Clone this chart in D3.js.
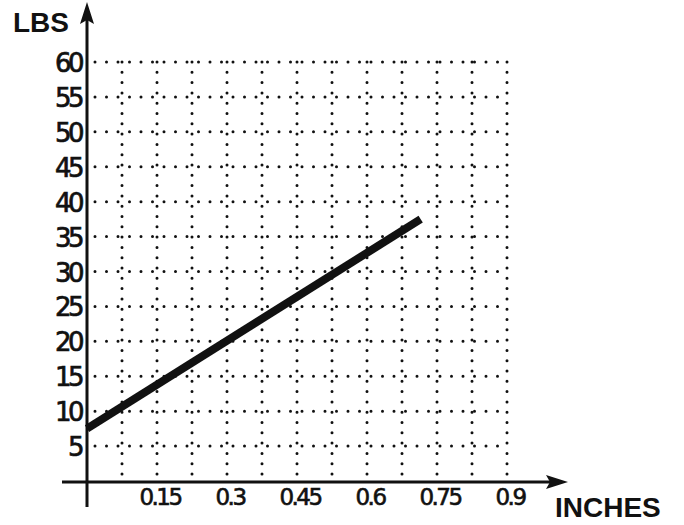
<!DOCTYPE html>
<html><head><meta charset="utf-8">
<script src="https://cdn.jsdelivr.net/npm/d3@7"></script>
<style>body{margin:0;background:#fff}</style>
</head><body>
<script>
const yTicks = [5,10,15,20,25,30,35,40,45,50,55,60];
const xTickLabels = ["0.15","0.3","0.45","0.6","0.75","0.9"];
const xTickValues = [0.15,0.3,0.45,0.6,0.75,0.9];
const xGrid = [0.075,0.15,0.225,0.3,0.375,0.45,0.525,0.6,0.675,0.75,0.825,0.9];
const lineX = [0, 0.715];
const lineY = [7.5, 37.5];

const W=684,H=525;
const svg=d3.select("body").append("svg").attr("width",W).attr("height",H);
const x=d3.scaleLinear().domain([0,0.9]).range([87,507]);
const y=d3.scaleLinear().domain([0,60]).range([481,62]);

// grid
const g=svg.append("g").attr("stroke","#111").attr("stroke-width",3).attr("stroke-linecap","round").attr("fill","none");
g.selectAll(".h").data(yTicks).join("line")
 .attr("x1",x(0)+8).attr("x2",x(0.9)).attr("y1",d=>y(d)).attr("y2",d=>y(d))
 .attr("stroke-dasharray","0,11.5");
g.selectAll(".v").data(xGrid).join("line")
 .attr("x1",d=>x(d)).attr("x2",d=>x(d)).attr("y1",y(60)).attr("y2",y(0)-6)
 .attr("stroke-dasharray","0,10.3");

// axes
svg.append("line").attr("x1",62).attr("x2",552).attr("y1",y(0)+1).attr("y2",y(0)+1).attr("stroke","#111").attr("stroke-width",3);
svg.append("line").attr("x1",x(0)).attr("x2",x(0)).attr("y1",507).attr("y2",18).attr("stroke","#111").attr("stroke-width",3);
svg.append("path").attr("d",`M568,${y(0)+1} L546,${y(0)-6} L550,${y(0)+1} L546,${y(0)+8} Z`).attr("fill","#111");
svg.append("path").attr("d",`M${x(0)},2 L${x(0)-7},24 L${x(0)},20 L${x(0)+7},24 Z`).attr("fill","#111");

// data line
svg.append("path").datum(lineX.map((d,i)=>[d,lineY[i]]))
 .attr("d",d3.line().x(d=>x(d[0])).y(d=>y(d[1])))
 .attr("stroke","#111").attr("stroke-width",8).attr("fill","none");

// tick labels
const tf="'DejaVu Sans',sans-serif";
svg.selectAll(".yl").data(yTicks).join("text")
 .attr("x",81).attr("y",d=>y(d)+10).attr("text-anchor","end")
 .attr("font-family",tf).attr("font-size",26).attr("letter-spacing",-3.5)
 .attr("fill","#111").attr("stroke","#111").attr("stroke-width",0.7)
 .text(d=>d);
svg.selectAll(".xl").data(xTickValues).join("text")
 .attr("x",d=>x(d)+3).attr("y",505).attr("text-anchor","middle")
 .attr("font-family",tf).attr("font-size",23).attr("letter-spacing",-2.5)
 .attr("fill","#111").attr("stroke","#111").attr("stroke-width",0.6)
 .text((d,i)=>xTickLabels[i]);

svg.append("text").attr("x",13).attr("y",32).attr("font-family","'Liberation Sans',Arial,sans-serif").attr("font-weight","bold").attr("font-size",28).attr("fill","#111").text("LBS");
svg.append("text").attr("x",555).attr("y",517).attr("font-family","'Liberation Sans',Arial,sans-serif").attr("font-weight","bold").attr("font-size",28).attr("fill","#111").text("INCHES");
</script>
</body></html>
